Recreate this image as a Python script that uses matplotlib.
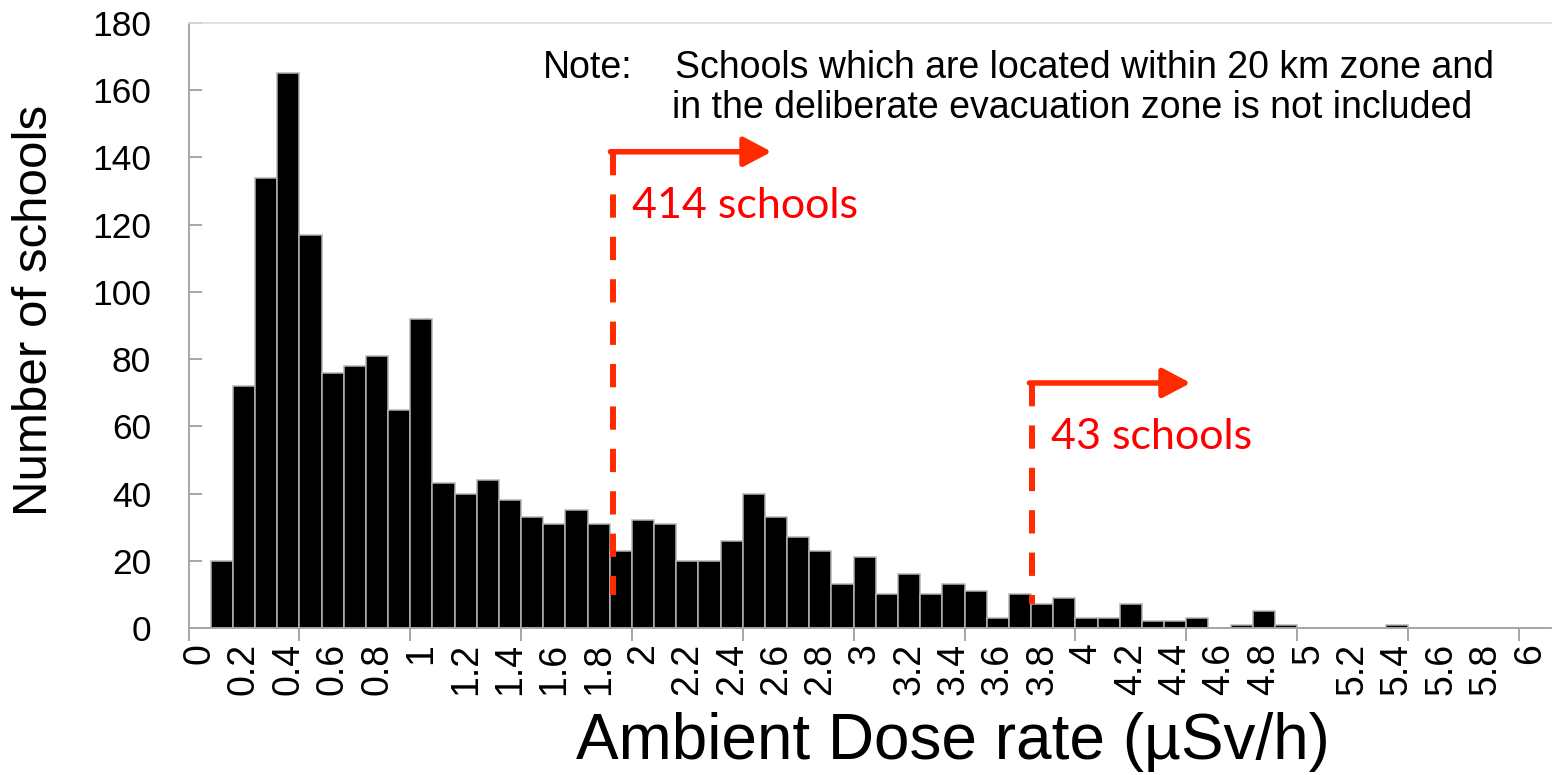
import numpy as np
import matplotlib.pyplot as plt

# Histogram data: number of schools per 0.1 uSv/h bin (bins start at 0.0)
counts = [0, 20, 72, 134, 165, 117, 76, 78, 81, 65, 92,
          43, 40, 44, 38, 33, 31, 35, 31, 23, 32,
          31, 20, 20, 26, 40, 33, 27, 23, 13, 21,
          10, 16, 10, 13, 11, 3, 10, 7, 9, 3,
          3, 7, 2, 2, 3, 0, 1, 5, 1, 0,
          0, 0, 0, 1, 0, 0, 0, 0, 0, 0]
tick_labels = ['0', '0.2', '0.4', '0.6', '0.8', '1', '1.2', '1.4', '1.6', '1.8',
               '2', '2.2', '2.4', '2.6', '2.8', '3', '3.2', '3.4', '3.6', '3.8',
               '4', '4.2', '4.4', '4.6', '4.8', '5', '5.2', '5.4', '5.6', '5.8', '6']
yticks = [0, 20, 40, 60, 80, 100, 120, 140, 160, 180]
groups = ['414 schools', '43 schools']

red = '#ff2a00'
grey = '#a6a6a6'
arial = ['Liberation Sans', 'DejaVu Sans']

fig = plt.figure(figsize=(15.52, 7.75), dpi=100)
ax = fig.add_axes([0.1215, 0.1897, 1 - 0.1215, 0.9703 - 0.1897])

idx = np.arange(len(counts))
ax.bar(idx, counts, width=1, align='edge', color='black',
       edgecolor='#b4b4b4', linewidth=1.1, zorder=2)

ax.set_xlim(0, 61.5)
ax.set_ylim(0, 180)

# major ticks every 5 bins (no labels), labels under every second bin
ax.set_xticks(np.arange(0, 61, 5))
ax.set_xticklabels([])
ax.set_xticks(np.arange(0, 61, 2) + 0.5, minor=True)
ax.set_xticklabels(tick_labels, minor=True, rotation=90, va='top', ha='center',
                   family=arial, fontsize=27)
ax.tick_params(axis='x', which='major', direction='out', length=9, width=1.4, color=grey)
ax.tick_params(axis='x', which='minor', length=0, pad=11)

ax.set_yticks(yticks)
ax.set_yticklabels([str(v) for v in yticks], family=arial, fontsize=25.5)
ax.tick_params(axis='y', direction='in', length=9, width=1.4, color=grey, pad=27)

for s in ['left', 'bottom']:
    ax.spines[s].set_color(grey)
    ax.spines[s].set_linewidth(1.4)
ax.spines['top'].set_color('#dcdcdc')
ax.spines['top'].set_linewidth(1.2)
ax.spines['right'].set_visible(False)

ax.set_xlabel('Ambient Dose rate (µSv/h)', family=arial, fontsize=46)
ax.xaxis.set_label_coords(0.5607, -0.188)
ax.xaxis.label.set_va('center')
ax.set_ylabel('Number of schools', family=arial, fontsize=35.5)
ax.yaxis.set_label_coords(-0.113, 0.5256)
ax.yaxis.label.set_va('center')

# threshold markers: dashed line, arrow to the right, and count
markers = [(19.15, 9.8, 141.7, 26.3), (38.05, 7.0, 72.9, 45.2)]
for (x0, ybot, ytop, xtip), lab in zip(markers, groups):
    ax.plot([x0, x0], [ytop, ybot], color=red, lw=4.3, ls=(0, (3.9, 3.2)),
            solid_capstyle='butt', dash_capstyle='butt', zorder=3)
    ax.annotate('', xy=(xtip, ytop), xytext=(x0 - 0.12, ytop),
                arrowprops=dict(arrowstyle='-|>,head_length=0.85,head_width=0.45',
                                color=red, lw=4, mutation_scale=20,
                                shrinkA=0, shrinkB=0), zorder=3)
    ax.text(x0 + 0.85, ytop - 16, lab, color='#ff0000', fontsize=31,
            family=['Lato', 'DejaVu Sans'], va='center', ha='left')

fig.text(543 / 1552, 1 - 68 / 775, 'Note:', family=arial, fontsize=27, va='center')
fig.text(675 / 1552, 1 - 68 / 775, 'Schools which are located within 20 km zone and',
         family=arial, fontsize=27, va='center')
fig.text(672 / 1552, 1 - 108 / 775, 'in the deliberate evacuation zone is not included',
         family=arial, fontsize=27, va='center')

fig.savefig('out.png', dpi=100)
